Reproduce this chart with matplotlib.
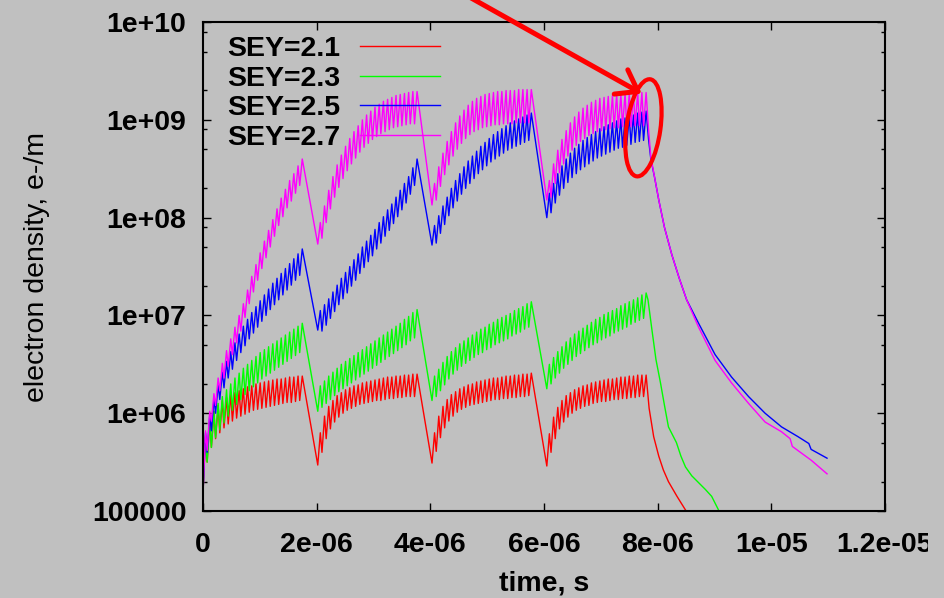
import numpy as np
import matplotlib
matplotlib.use("Agg")
import matplotlib.pyplot as plt
from matplotlib.patches import Ellipse
from matplotlib.ticker import FixedLocator, LogLocator, FuncFormatter, NullFormatter
from matplotlib.transforms import IdentityTransform, Bbox

plt.rcParams['font.family'] = ['Liberation Sans', 'DejaVu Sans']

# bunch train timing, microseconds
train_starts = [0.0, 2.02, 4.03, 6.05]
bunch_spacing = 0.074
rise_time = 0.045

# log10 of line density: value just before each bunch (trough) and right after it (peak)
red_troughs = [
    [5.18, 5.50, 5.65, 5.74, 5.80, 5.85, 5.89, 5.92, 5.95, 5.97, 5.99, 6.01, 6.03, 6.04, 6.05, 6.06, 6.07, 6.08, 6.09, 6.10, 6.11, 6.11, 6.12, 6.13],
    [5.47, 5.60, 5.74, 5.84, 5.91, 5.96, 6.00, 6.03, 6.05, 6.07, 6.09, 6.10, 6.11, 6.12, 6.13, 6.13, 6.14, 6.15, 6.15, 6.16, 6.16, 6.17, 6.17, 6.17],
    [5.49, 5.61, 5.75, 5.85, 5.92, 5.97, 6.01, 6.04, 6.06, 6.08, 6.09, 6.10, 6.11, 6.12, 6.13, 6.14, 6.14, 6.15, 6.15, 6.16, 6.16, 6.17, 6.17, 6.18],
    [5.46, 5.60, 5.74, 5.84, 5.91, 5.96, 6.00, 6.03, 6.05, 6.07, 6.08, 6.10, 6.11, 6.12, 6.12, 6.13, 6.14, 6.14, 6.15, 6.15, 6.16, 6.16, 6.17, 6.17],
]
red_peaks = [
    [5.76, 5.92, 6.02, 6.08, 6.13, 6.16, 6.19, 6.21, 6.23, 6.25, 6.27, 6.28, 6.30, 6.31, 6.32, 6.33, 6.34, 6.35, 6.35, 6.36, 6.37, 6.37, 6.38, 6.38],
    [5.80, 5.97, 6.07, 6.13, 6.18, 6.21, 6.24, 6.26, 6.28, 6.29, 6.31, 6.32, 6.33, 6.34, 6.35, 6.36, 6.37, 6.37, 6.38, 6.38, 6.39, 6.39, 6.40, 6.40],
    [5.80, 5.97, 6.07, 6.14, 6.19, 6.22, 6.25, 6.27, 6.29, 6.30, 6.32, 6.33, 6.34, 6.35, 6.36, 6.36, 6.37, 6.38, 6.38, 6.39, 6.39, 6.40, 6.40, 6.41],
    [5.79, 5.96, 6.06, 6.13, 6.18, 6.21, 6.24, 6.26, 6.28, 6.29, 6.31, 6.32, 6.33, 6.34, 6.35, 6.35, 6.36, 6.37, 6.37, 6.38, 6.38, 6.39, 6.39, 6.39],
]
red_tail_t = [7.85, 7.93, 8.02, 8.10, 8.19, 8.34, 8.49, 8.65]
red_tail = [6.05, 5.76, 5.56, 5.42, 5.30, 5.15, 5.01, 4.88]

green_troughs = [
    [5.17, 5.50, 5.65, 5.75, 5.83, 5.90, 5.97, 6.03, 6.09, 6.14, 6.19, 6.23, 6.27, 6.31, 6.35, 6.38, 6.41, 6.44, 6.47, 6.50, 6.53, 6.56, 6.59, 6.62],
    [6.02, 6.06, 6.10, 6.14, 6.18, 6.22, 6.25, 6.28, 6.31, 6.34, 6.37, 6.40, 6.43, 6.46, 6.49, 6.52, 6.55, 6.58, 6.61, 6.64, 6.67, 6.70, 6.74, 6.77],
    [6.13, 6.17, 6.23, 6.29, 6.35, 6.40, 6.44, 6.48, 6.51, 6.54, 6.57, 6.60, 6.62, 6.65, 6.67, 6.70, 6.72, 6.74, 6.76, 6.79, 6.81, 6.83, 6.86, 6.88],
    [6.25, 6.30, 6.36, 6.41, 6.46, 6.50, 6.54, 6.58, 6.61, 6.64, 6.67, 6.70, 6.72, 6.75, 6.77, 6.79, 6.82, 6.84, 6.86, 6.88, 6.91, 6.93, 6.95, 6.97],
]
green_peaks = [
    [5.78, 5.92, 6.02, 6.10, 6.17, 6.24, 6.30, 6.36, 6.41, 6.46, 6.50, 6.54, 6.58, 6.62, 6.65, 6.68, 6.71, 6.74, 6.77, 6.80, 6.83, 6.86, 6.89, 6.92],
    [6.28, 6.33, 6.38, 6.42, 6.46, 6.50, 6.53, 6.56, 6.59, 6.62, 6.65, 6.68, 6.71, 6.74, 6.77, 6.80, 6.83, 6.86, 6.89, 6.92, 6.96, 6.99, 7.03, 7.06],
    [6.38, 6.45, 6.52, 6.58, 6.63, 6.67, 6.71, 6.74, 6.77, 6.80, 6.83, 6.86, 6.88, 6.91, 6.93, 6.96, 6.98, 7.00, 7.02, 7.05, 7.07, 7.09, 7.12, 7.14],
    [6.50, 6.57, 6.63, 6.68, 6.73, 6.77, 6.81, 6.84, 6.87, 6.90, 6.93, 6.96, 6.98, 7.01, 7.03, 7.05, 7.07, 7.10, 7.12, 7.14, 7.16, 7.18, 7.21, 7.23],
]
green_tail_t = [7.83, 7.90, 7.97, 8.05, 8.12, 8.19, 8.26, 8.33, 8.41, 8.49, 8.60, 8.72, 8.84, 8.95, 9.02, 9.08, 9.15]
green_tail = [7.16, 6.85, 6.55, 6.31, 6.08, 5.86, 5.78, 5.70, 5.56, 5.45, 5.36, 5.29, 5.22, 5.15, 5.07, 5.00, 4.93]

blue_troughs = [
    [5.18, 5.60, 5.82, 6.00, 6.14, 6.26, 6.36, 6.45, 6.54, 6.62, 6.69, 6.76, 6.82, 6.88, 6.94, 7.00, 7.06, 7.11, 7.16, 7.21, 7.26, 7.31, 7.36, 7.41],
    [6.85, 6.84, 6.90, 6.97, 7.04, 7.11, 7.17, 7.23, 7.30, 7.36, 7.43, 7.49, 7.55, 7.61, 7.68, 7.74, 7.81, 7.87, 7.94, 8.01, 8.08, 8.15, 8.24, 8.33],
    [7.72, 7.74, 7.84, 7.93, 8.02, 8.10, 8.17, 8.24, 8.30, 8.35, 8.40, 8.45, 8.49, 8.53, 8.57, 8.60, 8.63, 8.66, 8.69, 8.71, 8.73, 8.75, 8.77, 8.79],
    [8.00, 8.05, 8.15, 8.23, 8.30, 8.36, 8.41, 8.45, 8.49, 8.52, 8.55, 8.58, 8.61, 8.63, 8.65, 8.67, 8.69, 8.71, 8.72, 8.74, 8.75, 8.77, 8.78, 8.79],
]
blue_peaks = [
    [5.80, 5.98, 6.14, 6.29, 6.42, 6.53, 6.63, 6.72, 6.81, 6.89, 6.96, 7.03, 7.09, 7.15, 7.21, 7.27, 7.33, 7.38, 7.43, 7.48, 7.53, 7.58, 7.63, 7.68],
    [7.05, 7.11, 7.17, 7.24, 7.31, 7.38, 7.44, 7.50, 7.57, 7.63, 7.70, 7.76, 7.82, 7.88, 7.95, 8.01, 8.08, 8.14, 8.21, 8.28, 8.35, 8.42, 8.51, 8.60],
    [7.92, 8.02, 8.12, 8.21, 8.30, 8.38, 8.45, 8.52, 8.58, 8.63, 8.68, 8.73, 8.77, 8.81, 8.85, 8.88, 8.91, 8.94, 8.97, 8.99, 9.01, 9.03, 9.05, 9.07],
    [8.25, 8.35, 8.45, 8.53, 8.60, 8.66, 8.71, 8.75, 8.79, 8.82, 8.85, 8.88, 8.91, 8.93, 8.95, 8.97, 8.99, 9.01, 9.02, 9.04, 9.05, 9.07, 9.08, 9.09],
]
blue_tail_t = [7.84, 7.88, 7.95, 8.02, 8.12, 8.25, 8.38, 8.51, 8.72, 9.01, 9.30, 9.60, 9.89, 10.18, 10.47, 10.66, 10.70, 10.98]
blue_tail = [8.80, 8.60, 8.40, 8.18, 7.90, 7.62, 7.38, 7.16, 6.92, 6.60, 6.37, 6.17, 6.00, 5.86, 5.76, 5.69, 5.63, 5.54]

magenta_troughs = [
    [5.15, 5.62, 5.92, 6.08, 6.23, 6.36, 6.48, 6.60, 6.72, 6.84, 6.98, 7.12, 7.24, 7.36, 7.48, 7.59, 7.70, 7.81, 7.92, 8.01, 8.10, 8.17, 8.25, 8.33],
    [7.73, 7.79, 7.95, 8.09, 8.21, 8.31, 8.40, 8.48, 8.55, 8.61, 8.67, 8.72, 8.76, 8.80, 8.83, 8.86, 8.88, 8.90, 8.92, 8.93, 8.94, 8.95, 8.96, 8.96],
    [8.13, 8.18, 8.32, 8.44, 8.54, 8.63, 8.70, 8.76, 8.81, 8.85, 8.88, 8.90, 8.92, 8.93, 8.94, 8.95, 8.95, 8.96, 8.96, 8.96, 8.97, 8.97, 8.97, 8.97],
    [8.18, 8.21, 8.35, 8.46, 8.55, 8.63, 8.69, 8.74, 8.78, 8.81, 8.84, 8.86, 8.88, 8.89, 8.90, 8.91, 8.92, 8.92, 8.93, 8.93, 8.93, 8.94, 8.94, 8.94],
]
magenta_peaks = [
    [5.82, 6.02, 6.20, 6.36, 6.51, 6.64, 6.76, 6.88, 7.00, 7.12, 7.26, 7.40, 7.52, 7.64, 7.76, 7.87, 7.98, 8.09, 8.20, 8.29, 8.38, 8.45, 8.53, 8.60],
    [7.95, 8.12, 8.28, 8.42, 8.54, 8.64, 8.73, 8.81, 8.88, 8.94, 9.00, 9.05, 9.09, 9.13, 9.16, 9.19, 9.21, 9.23, 9.25, 9.26, 9.27, 9.28, 9.29, 9.29],
    [8.35, 8.52, 8.66, 8.78, 8.88, 8.97, 9.04, 9.10, 9.15, 9.19, 9.22, 9.24, 9.26, 9.27, 9.28, 9.29, 9.29, 9.30, 9.30, 9.30, 9.31, 9.31, 9.31, 9.31],
    [8.38, 8.55, 8.69, 8.80, 8.89, 8.97, 9.03, 9.08, 9.12, 9.15, 9.18, 9.20, 9.22, 9.23, 9.24, 9.25, 9.26, 9.26, 9.27, 9.27, 9.27, 9.28, 9.28, 9.28],
]
magenta_tail_t = [7.84, 7.88, 7.95, 8.02, 8.12, 8.25, 8.38, 8.51, 8.72, 9.01, 9.30, 9.60, 9.89, 10.18, 10.33, 10.37, 10.70, 10.98]
magenta_tail = [8.90, 8.62, 8.40, 8.18, 7.90, 7.62, 7.38, 7.16, 6.88, 6.54, 6.31, 6.10, 5.91, 5.81, 5.74, 5.66, 5.52, 5.38]

labels = ['SEY=2.1', 'SEY=2.3', 'SEY=2.5', 'SEY=2.7']
colors = ['#ff0000', '#00ff00', '#0000ff', '#ff00ff']

x_ticks = [0, 2e-6, 4e-6, 6e-6, 8e-6, 1e-5, 1.2e-5]
y_ticks = [1e5, 1e6, 1e7, 1e8, 1e9, 1e10]


def build_series(troughs, peaks, tail_t, tail):
    t, v = [], []
    for start, tr, pk in zip(train_starts, troughs, peaks):
        for i in range(len(pk)):
            t0 = start + i * bunch_spacing
            t += [t0, t0 + rise_time]
            v += [tr[i], pk[i]]
    t += tail_t
    v += tail
    return np.array(t) * 1e-6, 10 ** np.array(v)


series = [
    build_series(red_troughs, red_peaks, red_tail_t, red_tail),
    build_series(green_troughs, green_peaks, green_tail_t, green_tail),
    build_series(blue_troughs, blue_peaks, blue_tail_t, blue_tail),
    build_series(magenta_troughs, magenta_peaks, magenta_tail_t, magenta_tail),
]

bg = '#c0c0c0'
fig = plt.figure(figsize=(9.44, 5.98), dpi=100, facecolor=bg)
ax = fig.add_axes([0.215, 0.1455, 0.7225, 0.8175], facecolor=bg)

for (t, n), lab, c in zip(series, labels, colors):
    ax.plot(t, n, color=c, lw=1.0, label=lab)

ax.set_yscale('log')
ax.set_xlim(0, 1.2e-5)
ax.set_ylim(1e5, 1e10)

ax.xaxis.set_major_locator(FixedLocator(x_ticks))
ax.yaxis.set_major_locator(FixedLocator(y_ticks))
ax.yaxis.set_minor_locator(LogLocator(base=10, subs=[2, 5, 8]))
ax.yaxis.set_minor_formatter(NullFormatter())
gfmt = FuncFormatter(lambda v, pos: '%g' % v)
ax.xaxis.set_major_formatter(gfmt)
ax.yaxis.set_major_formatter(gfmt)

for s in ax.spines.values():
    s.set_linewidth(1.5)
ax.tick_params(which='both', direction='in', top=True, right=True, width=1.0)
ax.tick_params(which='major', length=5.8, labelsize=20.5)
ax.tick_params(which='minor', length=2.9)
ax.tick_params(axis='x', pad=15)
ax.tick_params(axis='y', pad=12)
for lbl in ax.get_xticklabels() + ax.get_yticklabels():
    lbl.set_fontweight('bold')

ax.set_xlabel('time, s', fontsize=20.5, fontweight='bold', va='center')
ax.set_ylabel('electron density, e-/m', fontsize=20.5, va='center')
ax.xaxis.set_label_coords(0.5, -0.148)
ax.yaxis.set_label_coords(-0.2434, 0.5)

leg = ax.legend(loc='upper left', bbox_to_anchor=(0.036, 0.971), frameon=False,
                markerfirst=False, handlelength=2.8, handletextpad=0.68,
                labelspacing=0.12, borderpad=0, borderaxespad=0,
                prop={'size': 20.5, 'weight': 'bold'})

# hand-drawn highlight around the end of the last train
ax.annotate('', xy=(7.72e-6, 1.86e9), xytext=(4.62e-6, 1.9e10),
            xycoords='data', textcoords='data', annotation_clip=False,
            arrowprops=dict(arrowstyle='->,head_length=0.7,head_width=0.5',
                            color='#ff0000', lw=3.6, mutation_scale=20,
                            shrinkA=0, shrinkB=0))

fig.canvas.draw()
cx, cy = ax.transData.transform((7.75e-6, 8.3e8))
fig.add_artist(Ellipse((cx, cy), 34, 98, angle=-8, fill=False,
                       edgecolor='#ff0000', lw=3.0, transform=IdentityTransform()))

last = ax.get_xticklabels()[-1]
last.set_clip_box(Bbox.from_extents(0, 0, 928, 598))
last.set_clip_on(True)

fig.savefig('out.png', dpi=100, facecolor=bg)
